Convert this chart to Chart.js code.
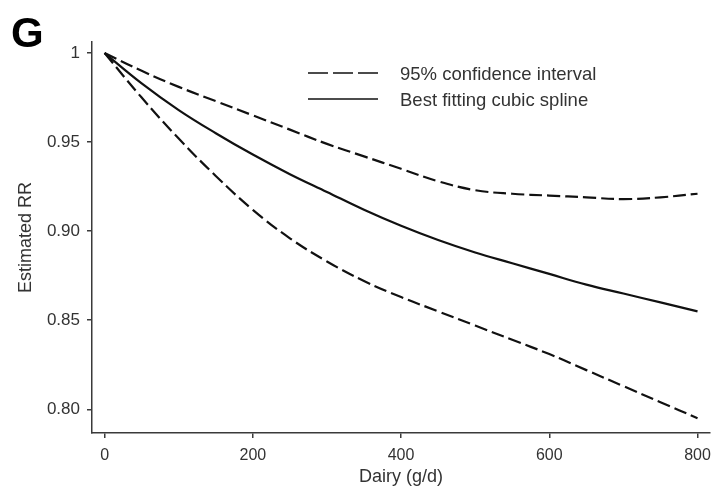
<!DOCTYPE html>
<html>
<head>
<meta charset="utf-8">
<script src="https://cdn.jsdelivr.net/npm/chart.js@4.4.1/dist/chart.umd.min.js"></script>
<style>
  html, body { margin: 0; padding: 0; background: #fff; }
  #wrap { width: 719px; height: 486px; }
</style>
</head>
<body>
<div id="wrap"><canvas id="dairyChart" width="719" height="486"></canvas></div>
<script>
// Dairy intake (g/d) against estimated relative risk
const dairyGrams = [0, 50, 100, 150, 200, 250, 300, 350, 400, 450, 500, 550, 600, 650, 700, 750, 800];
const splineRR   = [1.0, 0.983, 0.968, 0.955, 0.943, 0.932, 0.922, 0.912, 0.903, 0.895, 0.888, 0.882, 0.876, 0.870, 0.865, 0.860, 0.855];
const upperCI    = [1.0, 0.990, 0.981, 0.973, 0.965, 0.957, 0.949, 0.942, 0.935, 0.928, 0.923, 0.921, 0.920, 0.919, 0.918, 0.919, 0.921];
const lowerCI    = [1.0, 0.975, 0.952, 0.931, 0.912, 0.896, 0.883, 0.872, 0.863, 0.855, 0.847, 0.839, 0.831, 0.822, 0.813, 0.804, 0.795];
const xTicks = [0, 200, 400, 600, 800];
const yTicks = [0.80, 0.85, 0.90, 0.95, 1];
const legendItems = ["95% confidence interval", "Best fitting cubic spline"];

const ink = "#111";
const axisInk = "#3a3a3a";
const textInk = "#333";
const ciDash = [13, 5];
const fontFamily = "'Liberation Sans', Arial, sans-serif";

function toPoints(ys) {
  return dairyGrams.map((x, i) => ({ x: x, y: ys[i] }));
}

function lineSet(label, ys, dash) {
  return {
    label: label,
    data: toPoints(ys),
    borderColor: ink,
    borderWidth: 2.2,
    borderDash: dash,
    pointRadius: 0,
    fill: false,
    tension: 0.4,
  };
}

// Panel letter and the small legend in the top right
const panelExtras = {
  id: "panelExtras",
  afterDraw(chart) {
    const ctx = chart.ctx;
    ctx.save();
    ctx.fillStyle = "#000";
    ctx.font = "bold 42px " + fontFamily;
    ctx.textBaseline = "alphabetic";
    ctx.fillText("G", 11, 47);

    const rows = [
      { text: legendItems[0], dash: [20, 5], y: 73 },
      { text: legendItems[1], dash: [], y: 99 },
    ];
    rows.forEach(r => {
      ctx.strokeStyle = ink;
      ctx.lineWidth = 1.6;
      ctx.setLineDash(r.dash);
      ctx.beginPath();
      ctx.moveTo(308, r.y);
      ctx.lineTo(378, r.y);
      ctx.stroke();
      ctx.setLineDash([]);
      ctx.fillStyle = textInk;
      ctx.font = "18.5px " + fontFamily;
      ctx.textBaseline = "middle";
      ctx.fillText(r.text, 400, r.y + 2);
    });
    ctx.restore();
  },
};

const ctx = document.getElementById("dairyChart").getContext("2d");

const dairyChart = new Chart(ctx, {
  type: "line",
  data: {
    datasets: [
      lineSet("Upper 95% CI", upperCI, ciDash),
      lineSet("Best fitting cubic spline", splineRR, []),
      lineSet("Lower 95% CI", lowerCI, ciDash),
    ],
  },
  options: {
    responsive: false,
    animation: false,
    layout: { padding: { top: 42, right: 6, left: 0, bottom: 0 } },
    plugins: {
      legend: { display: false },
      tooltip: { enabled: false },
    },
    scales: {
      x: {
        type: "linear",
        min: -17,
        max: 817,
        afterBuildTicks: (scale) => { scale.ticks = xTicks.map(v => ({ value: v })); },
        afterFit: (scale) => { scale.height = 53; },
        grid: { drawOnChartArea: false, drawTicks: true, tickLength: 5, color: axisInk, lineWidth: 1.5 },
        border: { display: true, color: axisInk, width: 1.5 },
        ticks: {
          color: textInk,
          padding: 8,
          maxRotation: 0,
          font: { family: fontFamily, size: 16 },
        },
        title: {
          display: true,
          text: "Dairy (g/d)",
          color: textInk,
          padding: { top: 0, bottom: -2 },
          font: { family: fontFamily, size: 18 },
        },
      },
      y: {
        type: "linear",
        min: 0.7867,
        max: 1.0062,
        afterBuildTicks: (scale) => { scale.ticks = yTicks.map(v => ({ value: v })); },
        afterFit: (scale) => { scale.width = 92; },
        grid: { drawOnChartArea: false, drawTicks: true, tickLength: 5, color: axisInk, lineWidth: 1.5 },
        border: { display: true, color: axisInk, width: 1.5 },
        ticks: {
          color: textInk,
          padding: 7,
          font: { family: fontFamily, size: 17 },
          callback: (v) => (v === 1 ? "1" : v.toFixed(2)),
        },
        title: {
          display: true,
          text: "Estimated RR",
          color: textInk,
          padding: { top: 15, bottom: 0 },
          font: { family: fontFamily, size: 18 },
        },
      },
    },
  },
  plugins: [panelExtras],
});
</script>
</body>
</html>
